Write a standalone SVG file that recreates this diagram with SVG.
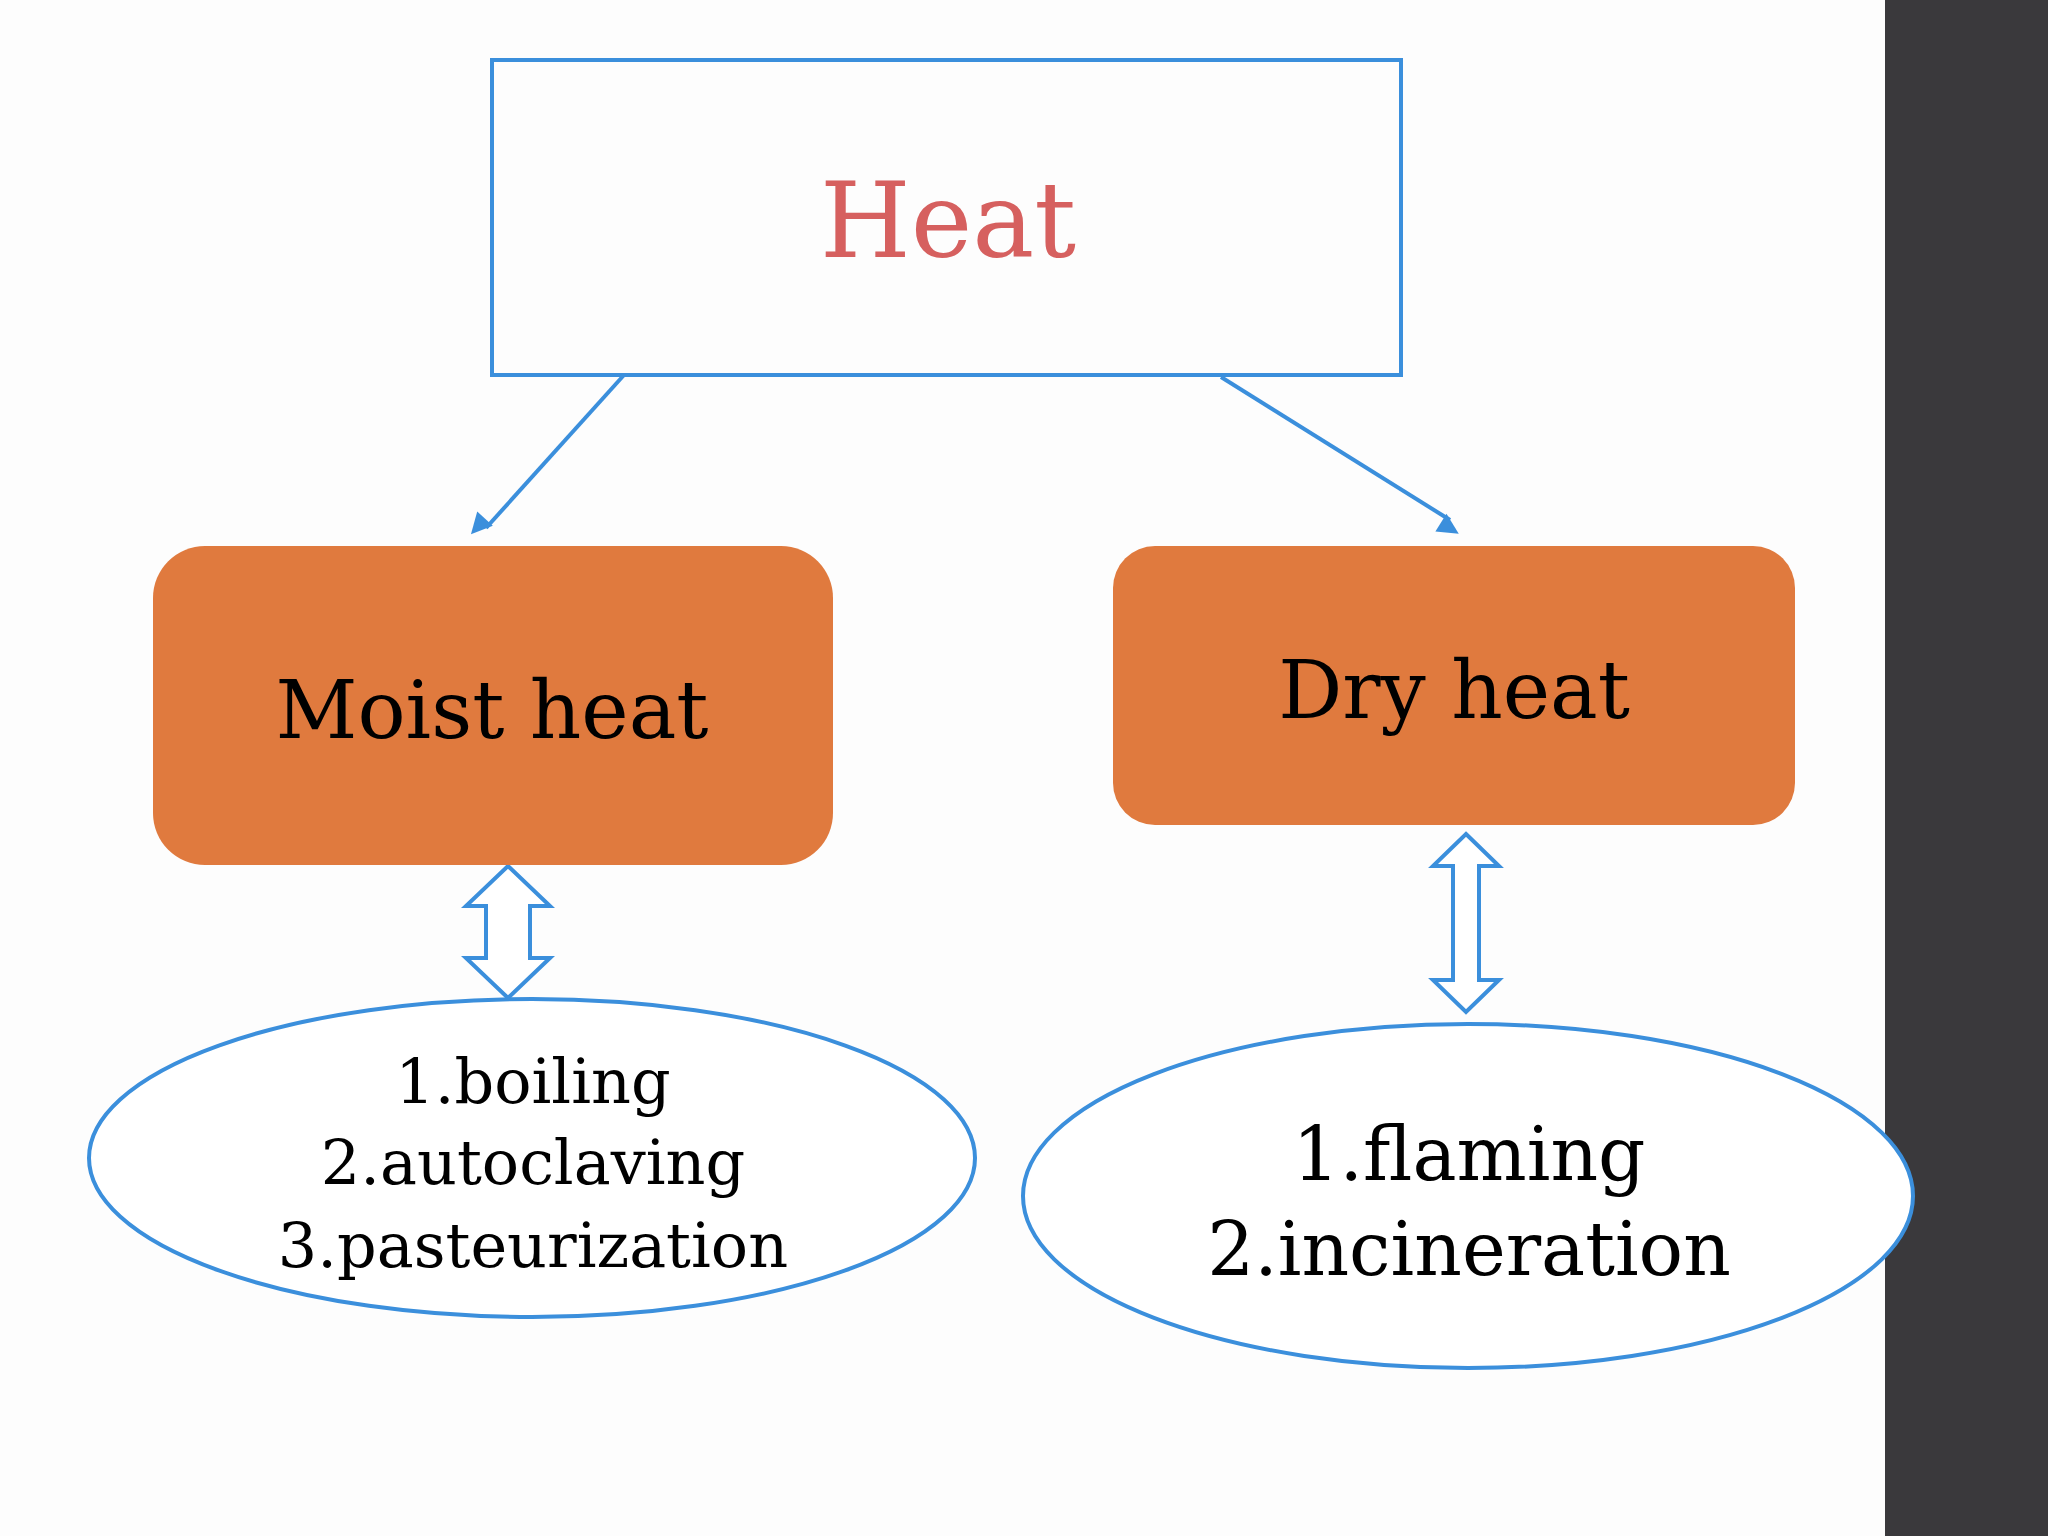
<svg xmlns="http://www.w3.org/2000/svg" width="2048" height="1536" viewBox="0 0 2048 1536">
<style>
.t{font-family:"Liberation Serif","DejaVu Serif",serif;font-weight:bold;text-anchor:middle;fill:#000}
.ln{stroke:#3b8fdc;stroke-width:4;fill:none}
.box{fill:#e07a3e}
.ell{fill:#fff;stroke:#3b8fdc;stroke-width:4}
.dbl{fill:#fff;stroke:#3b8fdc;stroke-width:4;stroke-linejoin:miter}
</style>
<defs>
<marker id="ah" viewBox="0 0 10 10" refX="9" refY="5" markerWidth="7" markerHeight="7" markerUnits="userSpaceOnUse" orient="auto" style="overflow:visible">
<path d="M0,0 L10,5 L0,10 z" fill="#3b8fdc" transform="scale(3)" />
</marker>
</defs>
<rect width="2048" height="1536" fill="#fdfdfd"/>
<rect x="1885" y="0" width="163" height="1536" fill="#3a393c"/>
<g id="heat">
<rect x="492" y="60" width="909" height="315" fill="#fdfdfd" stroke="#3b8fdc" stroke-width="4"/>
<text x="948" y="257" class="t" style="fill:#d6605f;font-size:104px;font-weight:normal;font-family:'DejaVu Serif',serif">Heat</text>
</g>
<g id="connectors">
<line class="ln" x1="624" y1="375" x2="486" y2="528" marker-end="url(#ah)"/>
<line class="ln" x1="1221" y1="377" x2="1450" y2="520" marker-end="url(#ah)"/>
<path class="dbl" d="M508,866 L550,906 L530,906 L530,958 L550,958 L508,998 L466,958 L486,958 L486,906 L466,906 Z"/>
<path class="dbl" d="M1466,834 L1499,866 L1479,866 L1479,980 L1499,980 L1466,1012 L1433,980 L1453,980 L1453,866 L1433,866 Z"/>
</g>
<g id="moist">
<rect class="box" x="153" y="546" width="680" height="319" rx="52"/>
<text x="492" y="738" class="t" style="font-size:80px;font-weight:normal;font-family:'DejaVu Serif',serif">Moist heat</text>
</g>
<g id="dry">
<rect class="box" x="1113" y="546" width="682" height="279" rx="42"/>
<text x="1454" y="718" class="t" style="font-size:80px;font-weight:normal;font-family:'DejaVu Serif',serif">Dry heat</text>
</g>
<g id="moist-list">
<ellipse class="ell" cx="532" cy="1158" rx="443" ry="159"/>
<text class="t" style="font-size:62px;font-weight:normal;font-family:'DejaVu Serif',serif" x="533" y="1103">1.boiling</text>
<text class="t" style="font-size:62px;font-weight:normal;font-family:'DejaVu Serif',serif" x="533" y="1184">2.autoclaving</text>
<text class="t" style="font-size:62px;font-weight:normal;font-family:'DejaVu Serif',serif" x="533" y="1267">3.pasteurization</text>
</g>
<g id="dry-list">
<ellipse class="ell" cx="1468" cy="1196" rx="445" ry="172"/>
<text class="t" style="font-size:74px;font-weight:normal;font-family:'DejaVu Serif',serif" x="1469" y="1180">1.flaming</text>
<text class="t" style="font-size:74px;font-weight:normal;font-family:'DejaVu Serif',serif" x="1469" y="1275">2.incineration</text>
</g>
</svg>
